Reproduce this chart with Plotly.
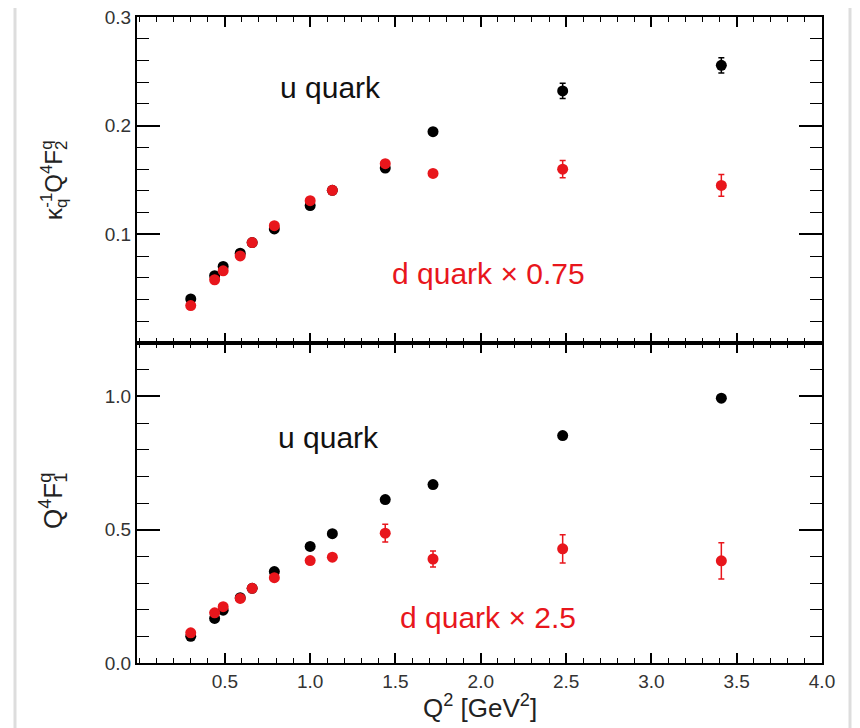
import plotly.graph_objects as go

# ---- data ----
q2 = [0.30, 0.44, 0.49, 0.59, 0.66, 0.79, 1.00, 1.13, 1.44, 1.72, 2.48, 3.41]

# top panel: kappa_q^-1 Q^4 F2^q
f2_u = [0.0405, 0.0619, 0.0704, 0.0826, 0.0924, 0.105, 0.1265, 0.1405, 0.161, 0.1945, 0.232, 0.2555]
f2_u_err = [0.002, 0.002, 0.002, 0.002, 0.002, 0.002, 0.002, 0.002, 0.003, 0.003, 0.007, 0.007]
f2_d = [0.0344, 0.0582, 0.0664, 0.0801, 0.0924, 0.108, 0.131, 0.1405, 0.165, 0.156, 0.160, 0.145]
f2_d_err = [0.002, 0.002, 0.002, 0.002, 0.002, 0.002, 0.002, 0.002, 0.003, 0.003, 0.008, 0.010]

# bottom panel: Q^4 F1^q
f1_u = [0.100, 0.167, 0.198, 0.245, 0.280, 0.343, 0.437, 0.485, 0.613, 0.669, 0.853, 0.993]
f1_u_err = [0.005, 0.005, 0.005, 0.005, 0.005, 0.005, 0.006, 0.006, 0.008, 0.008, 0.010, 0.010]
f1_d = [0.113, 0.188, 0.211, 0.242, 0.280, 0.320, 0.384, 0.397, 0.487, 0.390, 0.428, 0.383]
f1_d_err = [0.005, 0.005, 0.005, 0.006, 0.006, 0.007, 0.008, 0.008, 0.033, 0.030, 0.053, 0.068]

x_ticks = [0.5, 1.0, 1.5, 2.0, 2.5, 3.0, 3.5, 4.0]
y_top_ticks = [0.1, 0.2, 0.3]
y_bot_ticks = [0.0, 0.5, 1.0]
y_bot_text = ["0.0", "0.5", "1.0"]

BLACK = "#000000"
RED = "#e8161c"
FONT = "Liberation Sans, Arial, Helvetica, sans-serif"

# page body has an 8px margin; figure sized to fit the 860x728 window
W, H = 852, 720
L, R, T, B = 129, 38, 9, 65
PW, PH = W - L - R, H - T - B


def px(screen_x):
    return (screen_x - 8 - L) / PW


def py(screen_y):
    return (H - B - (screen_y - 8)) / PH


fig = go.Figure()


def add_series(x, y, err, color, xa, ya):
    fig.add_trace(go.Scatter(
        x=x, y=y, mode="markers", xaxis=xa, yaxis=ya, showlegend=False,
        marker=dict(color=color, size=11, line=dict(width=0)),
        error_y=dict(type="data", array=err, visible=True, color=color,
                     thickness=1.5, width=3),
    ))


add_series(q2, f2_u, f2_u_err, BLACK, "x2", "y2")
add_series(q2, f2_d, f2_d_err, RED, "x2", "y2")
add_series(q2, f1_u, f1_u_err, BLACK, "x", "y")
add_series(q2, f1_d, f1_d_err, RED, "x", "y")

split = 320 / PH

common_axis = dict(
    showline=True, linecolor="black", linewidth=2, mirror="allticks",
    ticks="inside", tickcolor="black", tickwidth=1.5,
    showgrid=False, zeroline=False, automargin=False,
    ticklabeloverflow="allow",
    tickfont=dict(family=FONT, size=19, color="#333333"),
)

fig.update_layout(
    width=W, height=H,
    margin=dict(l=L, r=R, t=T, b=B, autoexpand=False),
    paper_bgcolor="white", plot_bgcolor="white",
    font=dict(family=FONT),
    xaxis=dict(common_axis, anchor="y", range=[-0.015, 4.0], tickvals=x_ticks,
               tickformat=".1f", ticklen=10,
               minor=dict(dtick=0.1, tick0=0, ticklen=5, ticks="inside",
                          tickcolor="black", tickwidth=1.2)),
    xaxis2=dict(common_axis, anchor="y2", matches="x", range=[-0.015, 4.0],
                tickvals=x_ticks, showticklabels=False, ticklen=10,
                minor=dict(dtick=0.1, tick0=0, ticklen=5, ticks="inside",
                           tickcolor="black", tickwidth=1.2)),
    yaxis=dict(common_axis, domain=[0, split], range=[0, 1.2],
               tickvals=y_bot_ticks, ticktext=y_bot_text, ticklen=23,
               minor=dict(dtick=0.1, tick0=0, ticklen=12, ticks="inside",
                          tickcolor="black", tickwidth=1.2)),
    yaxis2=dict(common_axis, domain=[split, 1], range=[0, 0.3],
                tickvals=y_top_ticks, tickformat=".1f", ticklen=23,
                minor=dict(dtick=0.02, tick0=0, ticklen=12, ticks="inside",
                           tickcolor="black", tickwidth=1.2)),
)

annos = [
    dict(x=1.121, y=0.2355, xref="x2", yref="y2", text="u quark",
         font=dict(family=FONT, size=30, color="#111")),
    dict(x=2.045, y=0.0642, xref="x2", yref="y2", text="d quark × 0.75",
         font=dict(family=FONT, size=30, color=RED)),
    dict(x=1.11, y=0.845, xref="x", yref="y", text="u quark",
         font=dict(family=FONT, size=30, color="#111")),
    dict(x=2.042, y=0.172, xref="x", yref="y", text="d quark × 2.5",
         font=dict(family=FONT, size=30, color=RED)),
    dict(x=px(54), y=py(180), xref="paper", yref="paper",
         text=("κ<sub style='letter-spacing:-9px'>q</sub><sup>-1</sup>Q<sup>4</sup>"
               "F<sub style='letter-spacing:-9px'>2</sub><sup>q</sup>"),
         textangle=-90, font=dict(family=FONT, size=24, color="#222")),
    dict(x=px(53), y=py(501), xref="paper", yref="paper",
         text="Q<sup>4</sup>F<sub style='letter-spacing:-10px'>1</sub><sup>q</sup>",
         textangle=-90, font=dict(family=FONT, size=26, color="#222")),
    dict(x=px(480), y=py(706), xref="paper", yref="paper",
         text="Q<sup>2</sup> [GeV<sup>2</sup>]",
         font=dict(family=FONT, size=26, color="#222")),
]
for a in annos:
    a.update(showarrow=False, xanchor="center", yanchor="middle")
    fig.add_annotation(**a)

# light frame of the card around the figure
for (x0, y0, x1, y1) in [(15, 6, 15, 740), (15, 6, 850, 6), (850, 6, 850, 740)]:
    fig.add_shape(type="line", xref="paper", yref="paper",
                  x0=px(x0), x1=px(x1), y0=py(y0), y1=py(y1),
                  line=dict(color="#dddddd", width=3), layer="below")

fig.write_html("out.html")
